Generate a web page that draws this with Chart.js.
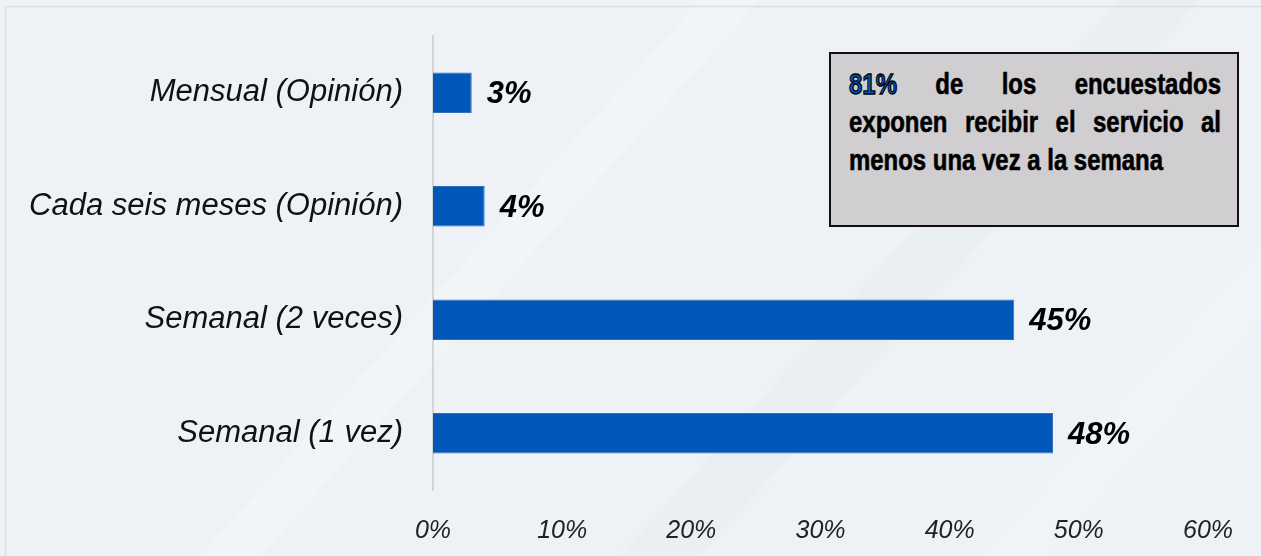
<!DOCTYPE html>
<html>
<head>
<meta charset="utf-8">
<script src="https://cdn.jsdelivr.net/npm/chart.js@4/dist/chart.umd.min.js"></script>
<style>
  html, body { margin:0; padding:0; background:#eef2f6; }
  #wrap { position:relative; width:1261px; height:556px; overflow:hidden; }
  canvas { position:absolute; left:0; top:0; }
  #note {
    position:absolute; left:829px; top:52px; width:410px; height:175px; box-sizing:border-box;
    background:#d0ced0; border:2px solid #111; overflow:hidden;
  }
  #noteText {
    position:absolute; left:18px; top:11px;
    font-family:"Liberation Sans",sans-serif; font-weight:bold;
    font-size:30px; line-height:38px; color:#000; text-align:justify; text-align-last:left;
    transform-origin:0 0; -webkit-text-stroke:0.6px #000;
  }
  #noteText .hl { color:#0057b8; -webkit-text-stroke:1.3px #000; }
  #measure { position:absolute; visibility:hidden; white-space:nowrap;
    font-family:"Liberation Sans",sans-serif; font-weight:bold; font-size:30px; }
</style>
</head>
<body>
<div id="wrap">
<canvas id="c" width="1261" height="556"></canvas>
<div id="note"><div id="noteText"><span class="hl">81%</span> de los encuestados exponen recibir el servicio al menos una vez a la semana</div></div>
<span id="measure">menos una vez a la semana</span>
</div>
<script>
const categories = ["Mensual (Opinión)", "Cada seis meses (Opinión)", "Semanal (2 veces)", "Semanal (1 vez)"];
const values = [3, 4, 45, 48];
const valueLabels = ["3%", "4%", "45%", "48%"];
const xTicks = [0, 10, 20, 30, 40, 50, 60];

(function () {
  const m = document.getElementById('measure');
  const s = 314 / m.getBoundingClientRect().width;
  const t = document.getElementById('noteText');
  t.style.width = (372 / s) + 'px';
  t.style.transform = 'scaleX(' + s + ')';
})();

const bgPlugin = {
  id: 'bg',
  beforeDraw(chart) {
    const ctx = chart.ctx, w = chart.width, h = chart.height;
    ctx.save();
    ctx.fillStyle = '#eef2f6';
    ctx.fillRect(0, 0, w, h);
    const bands = [[200, 60, 'rgba(255,255,255,0.22)'], [620, 80, 'rgba(225,230,238,0.25)'], [980, 70, 'rgba(255,255,255,0.2)']];
    bands.forEach(([x0, bw, col]) => {
      ctx.fillStyle = col;
      ctx.beginPath();
      ctx.moveTo(x0, h); ctx.lineTo(x0 + bw, h);
      ctx.lineTo(x0 + bw + 500, 0); ctx.lineTo(x0 + 500, 0);
      ctx.closePath(); ctx.fill();
    });
    ctx.strokeStyle = '#dcdde0';
    ctx.lineWidth = 1.5;
    ctx.strokeRect(5.5, 6.5, w + 10, h + 10);
    ctx.restore();
  }
};

const labelPlugin = {
  id: 'vlabels',
  afterDatasetsDraw(chart) {
    const ctx = chart.ctx;
    const meta = chart.getDatasetMeta(0);
    ctx.save();
    ctx.font = 'italic bold 31px "Liberation Sans", sans-serif';
    ctx.fillStyle = '#000';
    ctx.textAlign = 'left';
    ctx.textBaseline = 'middle';
    meta.data.forEach((bar, i) => {
      ctx.fillText(valueLabels[i], bar.x + 15, bar.y + 2);
    });
    ctx.restore();
  }
};

new Chart(document.getElementById('c'), {
  type: 'bar',
  data: {
    labels: categories,
    datasets: [{
      data: values,
      backgroundColor: '#0057b8',
      borderColor: '#2e6fc4',
      borderWidth: 1,
      categoryPercentage: 1,
      barPercentage: 0.355
    }]
  },
  options: {
    indexAxis: 'y',
    responsive: false,
    animation: false,
    layout: { padding: { left: 0, right: 53, top: 36, bottom: 0 } },
    plugins: { legend: { display: false }, tooltip: { enabled: false } },
    scales: {
      x: {
        min: 0, max: 60,
        afterBuildTicks(axis) { axis.ticks = xTicks.map(v => ({ value: v })); },
        grid: { display: false },
        border: { display: false },
        ticks: {
          callback: v => v + '%',
          font: { family: '"Liberation Sans",sans-serif', style: 'italic', size: 25 },
          color: '#222',
          padding: 18,
          maxRotation: 0
        },
        afterFit(axis) { axis.height = 66; axis.paddingLeft = 0; axis.paddingRight = 0; }
      },
      y: {
        grid: { display: false },
        border: { display: true, color: '#d3d5d8', width: 2 },
        ticks: {
          font: { family: '"Liberation Sans",sans-serif', style: 'italic', size: 31 },
          color: '#111',
          padding: 22
        },
        afterFit(axis) { axis.width = 433; axis.paddingTop = 0; axis.paddingBottom = 0; }
      }
    }
  },
  plugins: [bgPlugin, labelPlugin]
});
</script>
</body>
</html>
